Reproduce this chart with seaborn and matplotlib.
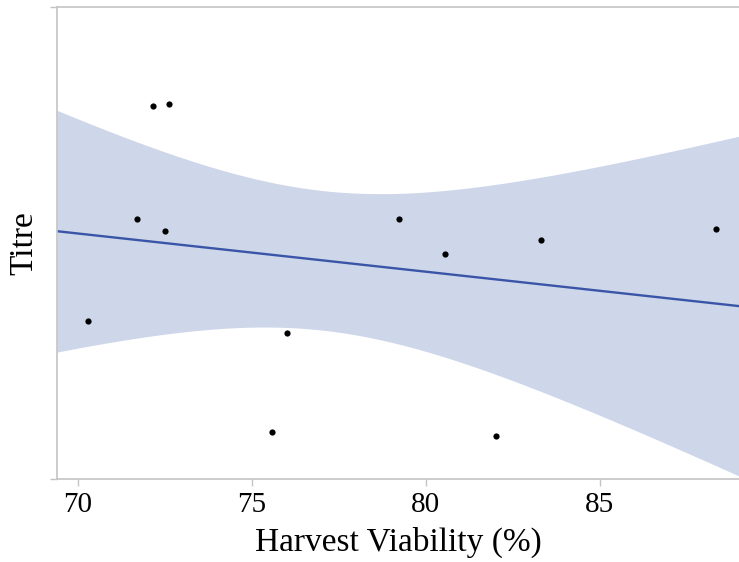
import matplotlib
matplotlib.use("Agg")
import matplotlib.pyplot as plt
import seaborn as sns
import numpy as np
import pandas as pd

viability = [70.30, 71.71, 72.17, 72.62, 72.50, 76.01, 75.59, 79.24, 80.55, 82.01, 83.30, 88.33]
titre = [33.5, 55.0, 79.0, 79.4, 52.5, 30.9, 10.0, 55.1, 47.7, 9.2, 50.6, 53.0]
x_ticks = [70, 75, 80, 85]

df = pd.DataFrame({"Harvest Viability (%)": viability, "Titre": titre})

sns.set_theme(style="white")
plt.rcParams["font.family"] = ["Liberation Serif", "DejaVu Serif"]

fig = plt.figure(figsize=(7.39, 5.62), dpi=100)
ax = fig.add_axes([57 / 739, 1 - 479 / 562, 1 - 57 / 739, (479 - 7) / 562])

x_lo, x_hi = 69.4, 89.0

# analytic 95% confidence band of the OLS fit (computed from the data)
xa = np.asarray(viability)
ya = np.asarray(titre)
n = len(xa)
slope, intercept = np.polyfit(xa, ya, 1)
resid = ya - (slope * xa + intercept)
s = np.sqrt(np.sum(resid ** 2) / (n - 2))
sxx = np.sum((xa - xa.mean()) ** 2)
t_crit = 2.228138851986274  # t(0.975, df=10)
grid = np.linspace(x_lo, x_hi, 300)
fit = slope * grid + intercept
half = t_crit * s * np.sqrt(1 / n + (grid - xa.mean()) ** 2 / sxx)
ax.fill_between(grid, fit - half, fit + half, color="#ced7e9", linewidth=0, zorder=1)

sns.regplot(data=df, x="Harvest Viability (%)", y="Titre", ax=ax,
            truncate=False, ci=None,
            scatter_kws=dict(s=20, color="black", linewidths=0, alpha=1, zorder=3),
            line_kws=dict(color="#3a55a8", lw=1.7, zorder=2))

ax.set_xlim(x_lo, x_hi)
ax.set_ylim(0, 100)
ax.set_xticks(x_ticks)
ax.set_xticklabels([str(t) for t in x_ticks])
ax.set_yticks([0, 100])
ax.set_yticklabels([])

for side in ["left", "bottom", "top"]:
    ax.spines[side].set_color("#c4c4c4")
    ax.spines[side].set_linewidth(1.2)
ax.spines["right"].set_visible(False)

ax.tick_params(axis="both", which="major", direction="out", length=5, width=1,
               color="#c4c4c4", labelsize=21, labelcolor="black", pad=4,
               bottom=True, left=True)

ax.set_xlabel("Harvest Viability (%)", fontsize=24, color="black", labelpad=7)
ax.set_ylabel("Titre", fontsize=24, color="black", labelpad=4)

fig.savefig("out.png", dpi=100)
